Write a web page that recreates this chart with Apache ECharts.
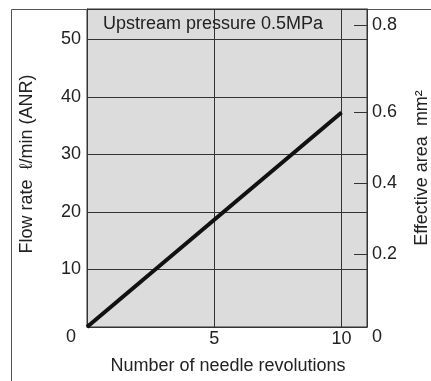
<!DOCTYPE html>
<html>
<head>
<meta charset="utf-8">
<style>
html,body{margin:0;padding:0;background:#fff;}
#c{width:431px;height:381px;}
</style>
<script src="https://cdn.jsdelivr.net/npm/echarts@6/dist/echarts.min.js"></script>
</head>
<body>
<div id="c"></div>
<script>
// Data
var revolutions = [0, 10];
var flowRate = [0, 37.3];
var flowTicks = [0, 10, 20, 30, 40, 50];
var revTicks = [5, 10];
var areaLabels = ['0', '0.2', '0.4', '0.6', '0.8'];
var areaTickFlow = [0, 12.64, 24.99, 37.34, 52.52]; // flow-scale position of each effective-area tick
var titleText = 'Upstream pressure 0.5MPa';

var FONT = '"Liberation Sans", Arial, sans-serif';
var FS = 18;
var TXT = '#222';
var LINE = '#333';

function areaFmt(v) {
  var best = 0, d = 1e9;
  for (var i = 0; i < areaTickFlow.length; i++) {
    var dd = Math.abs(areaTickFlow[i] - v);
    if (dd < d) { d = dd; best = i; }
  }
  return best === 0 ? '{z|0}' : areaLabels[best];
}

var chart = echarts.init(document.getElementById('c'), null, {renderer: 'canvas'});
chart.setOption({
  animation: false,
  backgroundColor: '#fff',
  textStyle: {fontFamily: FONT},
  grid: {
    left: 87, top: 9, width: 280, height: 318,
    outerBoundsMode: 'none', containLabel: false,
    show: true, backgroundColor: '#dcdcdc', borderColor: LINE, borderWidth: 1
  },
  graphic: [
    {
      type: 'polyline', silent: true, z: 0,
      shape: {points: [[11.5, 390], [11.5, 9.5], [440, 9.5]]},
      style: {stroke: '#555', lineWidth: 1, fill: null}
    },
    {
      type: 'text', z: 10,
      left: 103, top: 15,
      style: {text: titleText, font: FS + 'px ' + FONT, fill: TXT}
    }
  ],
  xAxis: {
    type: 'value', min: 0, max: 11, interval: 5,
    name: 'Number of needle revolutions',
    nameLocation: 'middle', nameGap: 30,
    nameTextStyle: {fontSize: FS, color: TXT, fontFamily: FONT, padding: [0, 0, 0, 2]},
    axisLine: {show: true, lineStyle: {color: LINE, width: 1}},
    axisTick: {show: false},
    axisLabel: {customValues: revTicks, fontSize: FS, color: TXT, margin: 3, fontFamily: FONT},
    splitLine: {show: true, lineStyle: {color: LINE, width: 1}}
  },
  yAxis: [
    {
      type: 'value', min: 0, max: 55.3, interval: 10, position: 'left',
      name: 'Flow rate  ℓ/min (ANR)',
      nameLocation: 'middle', nameGap: 51,
      nameTextStyle: {fontSize: FS, color: TXT, fontFamily: FONT, padding: [0, 0, 0, 8]},
      axisLine: {show: true, lineStyle: {color: LINE, width: 1}},
      axisTick: {show: false},
      axisLabel: {
        customValues: flowTicks, fontSize: FS, color: TXT, margin: 6, fontFamily: FONT,
        formatter: function (v) { return v === 0 ? '{z|0}' : String(v); },
        rich: {z: {fontSize: FS, color: TXT, fontFamily: FONT, padding: [20, 5, 0, 0]}}
      },
      splitLine: {show: true, lineStyle: {color: LINE, width: 1}}
    },
    {
      type: 'value', min: 0, max: 55.3, position: 'right',
      name: 'Effective area  mm²',
      nameLocation: 'middle', nameGap: 46,
      nameTextStyle: {fontSize: FS, color: TXT, fontFamily: FONT, padding: [0, 0, 24, 0]},
      axisLine: {show: true, lineStyle: {color: LINE, width: 1}},
      axisTick: {show: true, inside: true, length: 13, customValues: areaTickFlow.slice(1), lineStyle: {color: LINE, width: 1}},
      axisLabel: {
        customValues: areaTickFlow, fontSize: FS, color: TXT, margin: 5, fontFamily: FONT,
        formatter: areaFmt,
        rich: {z: {fontSize: FS, color: TXT, fontFamily: FONT, padding: [20, 0, 0, 0]}}
      },
      splitLine: {show: false}
    }
  ],
  series: [{
    type: 'line',
    data: revolutions.map(function (x, i) { return [x, flowRate[i]]; }),
    symbol: 'none',
    lineStyle: {color: '#111', width: 4},
    z: 5
  }]
});
</script>
</body>
</html>
